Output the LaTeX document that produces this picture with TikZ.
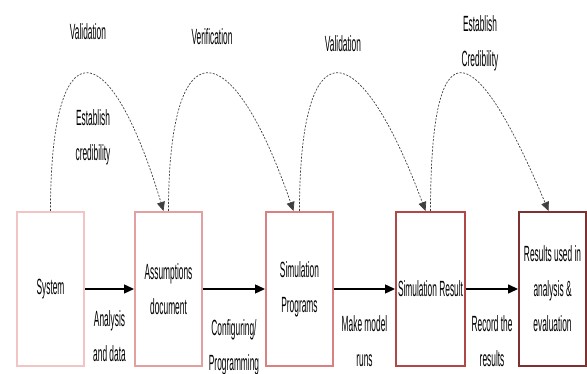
\documentclass[tikz,border=0pt]{standalone}
\usepackage{fontspec}
\setmainfont[FakeStretch=0.38]{Liberation Sans}
\usepackage{xcolor}
\usetikzlibrary{arrows.meta, positioning}

\definecolor{stageone}{HTML}{F2C4C4}
\definecolor{stagetwo}{HTML}{E3A0A0}
\definecolor{stagethree}{HTML}{D98080}
\definecolor{stagefour}{HTML}{B04848}
\definecolor{stagefive}{HTML}{7F3030}

\begin{document}
\begin{tikzpicture}[
    x=1pt, y=1pt,
    font=\fontsize{22}{35}\selectfont,
    stage/.style={rectangle, draw, line width=2pt, align=center, minimum width=67pt, minimum height=154pt, inner sep=2pt},
    lbl/.style={align=center, inner sep=0pt},
    arrow/.style={-{Triangle[length=10pt, width=9pt]}, line width=1.4pt},
    feedback/.style={-{Triangle[length=9pt, width=8pt]}, dash pattern=on 2pt off 1.5pt, line width=0.7pt, black!75}
]
\useasboundingbox (0,0) rectangle (587,374);

\node (system) [stage, draw=stageone] at (50.5,85) {System};
\node (assume) [stage, draw=stagetwo, right=49pt of system] {Assumptions\\document};
\node (simprog) [stage, draw=stagethree, right=62pt of assume] {Simulation\\Programs};
\node (simres) [stage, draw=stagefour, right=61pt of simprog] {Simulation Result};
\node (used) [stage, draw=stagefive, right=52pt of simres] {Results used in\\analysis \&\\evaluation};

\node (valid1) [lbl] at (88,342) {Validation};
\node (verif) [lbl] at (212,337) {Verification};
\node (valid2) [lbl] at (343,330) {Validation};
\node (cred1) [lbl] at (93,237) {Establish\\credibility};
\node (cred2) [lbl] at (480,331) {Establish\\Credibility};

\draw [arrow] (system) -- node [lbl, below=21pt] {Analysis\\and data} (assume);
\draw [arrow] (assume) -- node [lbl, below=30pt] {Configuring/\\Programming} (simprog);
\draw [arrow] (simprog) -- node [lbl, below=26pt] {Make model\\runs} (simres);
\draw [arrow] (simres) -- node [lbl, below=26pt] {Record the\\results} (used);

\draw [feedback] (system.north) .. controls +(0,183) and +(-55,183) .. ([xshift=-5pt]assume.north);
\draw [feedback] (assume.north) .. controls +(0,183) and +(-63,183) .. ([xshift=-6pt]simprog.north);
\draw [feedback] (simprog.north) .. controls +(0,183) and +(-68,183) .. ([xshift=-5pt]simres.north);
\draw [feedback] (simres.north) .. controls +(0,183) and +(-77,183) .. ([xshift=-4pt]used.north);

\end{tikzpicture}
\end{document}
